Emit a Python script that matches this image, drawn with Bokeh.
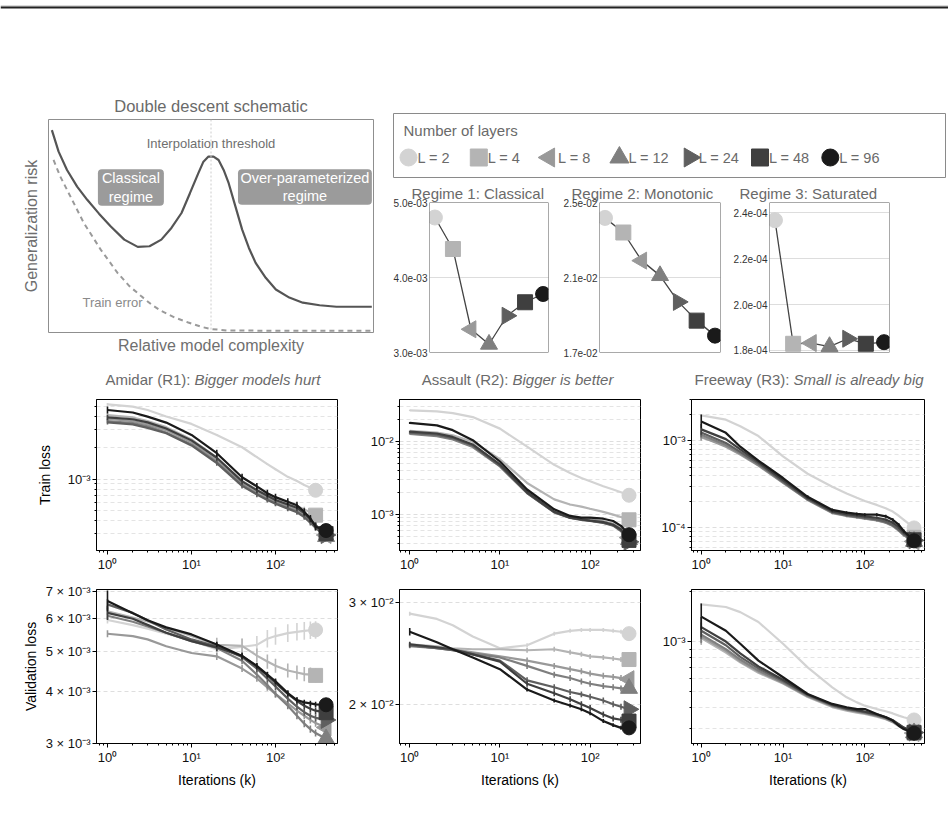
import numpy as np
from bokeh.plotting import figure
from bokeh.models import Range1d, FixedTicker, CustomJSTickFormatter, Span, BoxAnnotation
from bokeh.layouts import column, row
from bokeh.core.properties import value
from bokeh.embed import file_html
from bokeh.resources import INLINE

FONT = "Liberation Sans"
nan = float("nan")

# ---------------- data ----------------
layers = ["L = 2", "L = 4", "L = 8", "L = 12", "L = 24", "L = 48", "L = 96"]
colors = ["#d3d3d3", "#b4b4b4", "#999999", "#7f7f7f", "#5f5f5f", "#3f3f3f", "#1a1a1a"]
markers = ["circle", "square", "triangle", "triangle", "triangle", "square", "circle"]
angles = [0, 0, np.pi / 2, 0, -np.pi / 2, 0, 0]

# schematic
risk_x = [0.0104, 0.0311, 0.0570, 0.0881, 0.1192, 0.1554, 0.1917, 0.2332, 0.2746, 0.3109, 0.3472,
          0.3782, 0.4093, 0.4352, 0.4611, 0.4767, 0.4922, 0.5078, 0.5233, 0.5389, 0.5544, 0.5751,
          0.5959, 0.6166, 0.6373, 0.6684, 0.6995, 0.7409, 0.7824, 0.8342, 0.8860, 0.9948]
risk_y = [0.950, 0.849, 0.763, 0.685, 0.623, 0.558, 0.498, 0.436, 0.402, 0.405, 0.436,
          0.491, 0.561, 0.654, 0.748, 0.802, 0.826, 0.826, 0.810, 0.763, 0.701, 0.592,
          0.483, 0.397, 0.327, 0.257, 0.202, 0.164, 0.140, 0.128, 0.121, 0.121]
train_x = [0.0155, 0.0363, 0.0570, 0.0829, 0.1088, 0.1347, 0.1606, 0.1865, 0.2124, 0.2487,
           0.2850, 0.3161, 0.3472, 0.3886, 0.4301, 0.4715, 0.5026, 0.5544, 1.0]
train_y = [0.810, 0.732, 0.670, 0.592, 0.514, 0.452, 0.389, 0.335, 0.280, 0.218,
           0.171, 0.132, 0.101, 0.070, 0.047, 0.026, 0.016, 0.009, 0.008]
threshold_x = 0.5
regime_boxes = {"left": [0.152, 0.583], "right": [0.355, 0.995],
                "bottom": [0.595, 0.600], "top": [0.766, 0.766]}
regime_box_text = ["Classical\nregime", "Over-parameterized\nregime"]

# regime summaries (final validation loss per depth)
regime1 = [4.80e-3, 4.38e-3, 3.31e-3, 3.11e-3, 3.49e-3, 3.67e-3, 3.78e-3]
regime2 = [2.418e-2, 2.34e-2, 2.19e-2, 2.11e-2, 1.97e-2, 1.87e-2, 1.79e-2]
regime3 = [2.368e-4, 1.829e-4, 1.832e-4, 1.817e-4, 1.851e-4, 1.829e-4, 1.836e-4]

iters_long = [1, 2, 3, 5, 10, 20, 40, 60, 80, 100, 140, 180, 220, 260, 300, 400]
iters_assault = [1, 2, 3, 5, 10, 20, 40, 60, 80, 100, 140, 180, 220, 270]

amidar_train = [
    [5.2e-3, 4.96e-3, 4.6e-3, 3.98e-3, 3.38e-3, 2.65e-3, 2.02e-3, 1.62e-3, 1.39e-3, 1.24e-3, 1.05e-3, 9.56e-4, 8.75e-4, 8.26e-4, 7.8e-4, nan],
    [4.1e-3, 3.9e-3, 3.6e-3, 3.15e-3, 2.4e-3, 1.6e-3, 9.6e-4, 7.9e-4, 7.0e-4, 6.5e-4, 5.9e-4, 5.5e-4, 5.1e-4, 4.8e-4, 4.5e-4, nan],
    [3.8e-3, 3.6e-3, 3.35e-3, 2.95e-3, 2.25e-3, 1.5e-3, 9.0e-4, 7.4e-4, 6.6e-4, 6.1e-4, 5.5e-4, 5.1e-4, 4.6e-4, 4.1e-4, 3.6e-4, 2.9e-4],
    [3.6e-3, 3.45e-3, 3.2e-3, 2.8e-3, 2.15e-3, 1.45e-3, 8.8e-4, 7.2e-4, 6.4e-4, 5.9e-4, 5.3e-4, 4.9e-4, 4.4e-4, 3.9e-4, 3.4e-4, 2.8e-4],
    [3.5e-3, 3.35e-3, 3.1e-3, 2.75e-3, 2.1e-3, 1.42e-3, 8.6e-4, 7.1e-4, 6.3e-4, 5.8e-4, 5.2e-4, 4.8e-4, 4.3e-4, 3.8e-4, 3.4e-4, 2.9e-4],
    [3.9e-3, 3.75e-3, 3.5e-3, 3.05e-3, 2.35e-3, 1.6e-3, 9.5e-4, 7.8e-4, 6.9e-4, 6.3e-4, 5.7e-4, 5.3e-4, 4.7e-4, 4.1e-4, 3.6e-4, 3.0e-4],
    [4.6e-3, 4.35e-3, 3.97e-3, 3.48e-3, 2.65e-3, 1.77e-3, 1.04e-3, 8.5e-4, 7.3e-4, 6.7e-4, 6.05e-4, 5.6e-4, 4.85e-4, 4.19e-4, 3.48e-4, 3.2e-4],
]
assault_train = [
    [2.62e-2, 2.54e-2, 2.41e-2, 2.13e-2, 1.48e-2, 8.4e-3, 4.74e-3, 3.66e-3, 3.13e-3, 2.82e-3, 2.41e-3, 2.18e-3, 2.0e-3, 1.82e-3],
    [1.38e-2, 1.31e-2, 1.2e-2, 9.8e-3, 5.65e-3, 2.68e-3, 1.6e-3, 1.36e-3, 1.27e-3, 1.19e-3, 1.08e-3, 9.9e-4, 9.2e-4, 8.4e-4],
    [1.28e-2, 1.2e-2, 1.08e-2, 8.6e-3, 4.7e-3, 2.0e-3, 1.1e-3, 9.3e-4, 8.8e-4, 8.5e-4, 8.0e-4, 7.4e-4, 6.4e-4, 4.8e-4],
    [1.25e-2, 1.17e-2, 1.05e-2, 8.3e-3, 4.5e-3, 1.95e-3, 1.07e-3, 9.0e-4, 8.5e-4, 8.2e-4, 7.7e-4, 7.1e-4, 6.1e-4, 4.5e-4],
    [1.3e-2, 1.22e-2, 1.1e-2, 8.7e-3, 4.6e-3, 1.95e-3, 1.06e-3, 8.9e-4, 8.4e-4, 8.1e-4, 7.6e-4, 7.0e-4, 5.9e-4, 4.2e-4],
    [1.35e-2, 1.27e-2, 1.14e-2, 9.0e-3, 4.8e-3, 2.0e-3, 1.08e-3, 9.0e-4, 8.5e-4, 8.2e-4, 7.8e-4, 7.2e-4, 6.2e-4, 4.4e-4],
    [1.77e-2, 1.64e-2, 1.41e-2, 1.03e-2, 5.26e-3, 2.18e-3, 1.17e-3, 9.5e-4, 9.0e-4, 9.0e-4, 8.7e-4, 8.1e-4, 6.95e-4, 5.26e-4],
]
freeway_train = [
    [1.97e-3, 1.76e-3, 1.48e-3, 1.14e-3, 6.65e-4, 4.2e-4, 2.97e-4, 2.49e-4, 2.22e-4, 2.04e-4, 1.84e-4, 1.68e-4, 1.54e-4, 1.38e-4, 1.24e-4, 1.0e-4],
    [1.1e-3, 9.0e-4, 7.4e-4, 5.5e-4, 3.5e-4, 2.2e-4, 1.55e-4, 1.42e-4, 1.37e-4, 1.33e-4, 1.27e-4, 1.2e-4, 1.1e-4, 9.8e-5, 8.7e-5, 7.8e-5],
    [1.12e-3, 8.6e-4, 7.0e-4, 5.2e-4, 3.3e-4, 2.1e-4, 1.48e-4, 1.37e-4, 1.32e-4, 1.28e-4, 1.22e-4, 1.15e-4, 1.05e-4, 9.3e-5, 8.2e-5, 7.0e-5],
    [1.18e-3, 9.0e-4, 7.2e-4, 5.3e-4, 3.35e-4, 2.12e-4, 1.5e-4, 1.38e-4, 1.33e-4, 1.29e-4, 1.23e-4, 1.16e-4, 1.06e-4, 9.4e-5, 8.3e-5, 7.0e-5],
    [1.25e-3, 9.5e-4, 7.5e-4, 5.5e-4, 3.4e-4, 2.15e-4, 1.52e-4, 1.4e-4, 1.35e-4, 1.31e-4, 1.25e-4, 1.18e-4, 1.08e-4, 9.6e-5, 8.5e-5, 7.2e-5],
    [1.36e-3, 1.05e-3, 8.0e-4, 5.7e-4, 3.55e-4, 2.2e-4, 1.55e-4, 1.44e-4, 1.39e-4, 1.36e-4, 1.31e-4, 1.25e-4, 1.15e-4, 1.02e-4, 8.8e-5, 7.3e-5],
    [1.68e-3, 1.24e-3, 8.6e-4, 5.94e-4, 3.75e-4, 2.28e-4, 1.61e-4, 1.5e-4, 1.45e-4, 1.42e-4, 1.42e-4, 1.36e-4, 1.24e-4, 1.09e-4, 9.2e-5, 7.1e-5],
]
amidar_val = [
    [5.96e-3, 5.79e-3, 5.68e-3, 5.52e-3, 5.32e-3, 5.06e-3, 5.13e-3, 5.19e-3, 5.37e-3, 5.45e-3, 5.54e-3, 5.58e-3, 5.61e-3, 5.63e-3, 5.64e-3, nan],
    [6.25e-3, 6.04e-3, 5.91e-3, 5.71e-3, 5.45e-3, 5.19e-3, 5.16e-3, 4.89e-3, 4.73e-3, 4.62e-3, 4.50e-3, 4.45e-3, 4.41e-3, 4.40e-3, 4.38e-3, nan],
    [5.52e-3, 5.45e-3, 5.35e-3, 5.15e-3, 4.96e-3, 4.87e-3, 4.55e-3, 4.31e-3, 4.10e-3, 3.95e-3, 3.75e-3, 3.6e-3, 3.5e-3, 3.42e-3, 3.36e-3, 3.28e-3],
    [6.1e-3, 5.9e-3, 5.75e-3, 5.55e-3, 5.3e-3, 5.1e-3, 4.75e-3, 4.4e-3, 4.15e-3, 3.95e-3, 3.7e-3, 3.5e-3, 3.35e-3, 3.25e-3, 3.18e-3, 3.08e-3],
    [6.5e-3, 6.2e-3, 5.95e-3, 5.65e-3, 5.35e-3, 5.15e-3, 4.85e-3, 4.55e-3, 4.3e-3, 4.12e-3, 3.85e-3, 3.68e-3, 3.57e-3, 3.5e-3, 3.46e-3, 3.42e-3],
    [6.2e-3, 6.0e-3, 5.8e-3, 5.55e-3, 5.3e-3, 5.12e-3, 4.88e-3, 4.6e-3, 4.38e-3, 4.2e-3, 3.95e-3, 3.8e-3, 3.7e-3, 3.64e-3, 3.6e-3, 3.56e-3],
    [6.62e-3, 6.19e-3, 5.95e-3, 5.72e-3, 5.5e-3, 5.2e-3, 4.88e-3, 4.62e-3, 4.4e-3, 4.24e-3, 3.97e-3, 3.82e-3, 3.77e-3, 3.75e-3, 3.73e-3, 3.72e-3],
]
assault_val = [
    [2.87e-2, 2.81e-2, 2.74e-2, 2.62e-2, 2.50e-2, 2.53e-2, 2.65e-2, 2.68e-2, 2.69e-2, 2.69e-2, 2.69e-2, 2.68e-2, 2.67e-2, 2.65e-2],
    [2.54e-2, 2.52e-2, 2.50e-2, 2.49e-2, 2.49e-2, 2.48e-2, 2.49e-2, 2.46e-2, 2.44e-2, 2.42e-2, 2.41e-2, 2.40e-2, 2.39e-2, 2.39e-2],
    [2.53e-2, 2.50e-2, 2.49e-2, 2.46e-2, 2.42e-2, 2.38e-2, 2.33e-2, 2.30e-2, 2.28e-2, 2.26e-2, 2.24e-2, 2.23e-2, 2.22e-2, 2.21e-2],
    [2.52e-2, 2.50e-2, 2.48e-2, 2.45e-2, 2.41e-2, 2.33e-2, 2.25e-2, 2.22e-2, 2.19e-2, 2.17e-2, 2.15e-2, 2.14e-2, 2.13e-2, 2.13e-2],
    [2.53e-2, 2.50e-2, 2.48e-2, 2.44e-2, 2.38e-2, 2.20e-2, 2.14e-2, 2.10e-2, 2.08e-2, 2.06e-2, 2.03e-2, 2.00e-2, 1.98e-2, 1.96e-2],
    [2.54e-2, 2.51e-2, 2.49e-2, 2.44e-2, 2.37e-2, 2.17e-2, 2.09e-2, 2.04e-2, 2.00e-2, 1.97e-2, 1.92e-2, 1.89e-2, 1.88e-2, 1.87e-2],
    [2.67e-2, 2.56e-2, 2.49e-2, 2.41e-2, 2.30e-2, 2.12e-2, 2.03e-2, 1.99e-2, 1.96e-2, 1.93e-2, 1.87e-2, 1.84e-2, 1.82e-2, 1.82e-2],
]
freeway_val = [
    [1.67e-3, 1.61e-3, 1.50e-3, 1.31e-3, 9.7e-4, 7.0e-4, 5.32e-4, 4.63e-4, 4.32e-4, 4.13e-4, 3.94e-4, 3.82e-4, 3.71e-4, 3.6e-4, 3.52e-4, 3.39e-4],
    [1.05e-3, 8.6e-4, 7.5e-4, 6.5e-4, 5.6e-4, 4.65e-4, 4.05e-4, 3.85e-4, 3.75e-4, 3.68e-4, 3.55e-4, 3.42e-4, 3.28e-4, 3.12e-4, 2.98e-4, 2.82e-4],
    [1.07e-3, 8.8e-4, 7.6e-4, 6.6e-4, 5.65e-4, 4.7e-4, 4.1e-4, 3.9e-4, 3.8e-4, 3.72e-4, 3.58e-4, 3.45e-4, 3.3e-4, 3.14e-4, 3.0e-4, 2.83e-4],
    [1.10e-3, 9.0e-4, 7.8e-4, 6.7e-4, 5.7e-4, 4.72e-4, 4.12e-4, 3.92e-4, 3.82e-4, 3.74e-4, 3.6e-4, 3.47e-4, 3.32e-4, 3.16e-4, 3.02e-4, 2.84e-4],
    [1.16e-3, 9.5e-4, 8.1e-4, 6.9e-4, 5.8e-4, 4.78e-4, 4.15e-4, 3.95e-4, 3.85e-4, 3.77e-4, 3.63e-4, 3.5e-4, 3.35e-4, 3.18e-4, 3.04e-4, 2.85e-4],
    [1.22e-3, 1.0e-3, 8.5e-4, 7.1e-4, 5.9e-4, 4.82e-4, 4.18e-4, 3.98e-4, 3.88e-4, 3.8e-4, 3.66e-4, 3.53e-4, 3.38e-4, 3.2e-4, 3.05e-4, 2.86e-4],
    [1.41e-3, 1.16e-3, 9.7e-4, 7.69e-4, 6.11e-4, 4.85e-4, 4.23e-4, 4.04e-4, 3.94e-4, 3.94e-4, 3.68e-4, 3.52e-4, 3.36e-4, 3.13e-4, 2.99e-4, 2.82e-4],
]

# relative error-bar half sizes: at the first point, and at later checkpoints
amidar_train_err0 = [0.03, 0.05, 0.05, 0.05, 0.05, 0.06, 0.08]
amidar_train_err = [0.02, 0.06, 0.06, 0.06, 0.06, 0.07, 0.08]
assault_train_err0 = [0.02, 0.02, 0.02, 0.02, 0.02, 0.02, 0.03]
assault_train_err = [0.01, 0.02, 0.02, 0.02, 0.02, 0.02, 0.02]
freeway_train_err0 = [0.03, 0.10, 0.10, 0.10, 0.12, 0.15, 0.20]
freeway_train_err = [0.01, 0.03, 0.03, 0.03, 0.03, 0.03, 0.04]
amidar_val_err0 = [0.02, 0.02, 0.02, 0.02, 0.03, 0.04, 0.06]
amidar_val_err = [0.05, 0.04, 0.02, 0.02, 0.02, 0.02, 0.015]
assault_val_err0 = [0.008, 0.008, 0.008, 0.008, 0.01, 0.01, 0.015]
assault_val_err = [0.008, 0.01, 0.012, 0.012, 0.012, 0.012, 0.008]
freeway_val_err0 = [0.02, 0.10, 0.10, 0.12, 0.12, 0.15, 0.20]
freeway_val_err = [0.004, 0.004, 0.004, 0.004, 0.004, 0.004, 0.004]

# tick values
dec_minor = [m * 10.0 ** e for e in range(-6, 0) for m in range(2, 10)]
x_major = [1, 10, 100]
x_minor = [m * 10.0 ** e for e in range(-1, 3) for m in range(2, 10)]
amidar_val_ticks = [3e-3, 4e-3, 5e-3, 6e-3, 7e-3]
assault_val_ticks = [2e-2, 3e-2]

row_titles = [("Amidar (R1):", "Bigger models hurt"),
              ("Assault (R2):", "Bigger is better"),
              ("Freeway (R3):", "Small is already big")]

# ---------------- helpers ----------------
LOGFMT = """
const sup = {"0":"\u2070","1":"\u00b9","2":"\u00b2","3":"\u00b3","4":"\u2074","5":"\u2075","6":"\u2076","7":"\u2077","8":"\u2078","9":"\u2079","-":"\u207b"};
const e = Math.floor(Math.log10(tick) + 1e-9);
const m = Math.round(tick / Math.pow(10, e));
const es = String(e).split("").map(c => sup[c]).join("");
return (m === 1 ? "" : m + " \u00d7 ") + "10" + es;
"""
SCIFMT = """
const s = tick.toExponential(1);
const parts = s.split("e");
const sign = parts[1][0];
let d = parts[1].slice(1);
if (d.length < 2) { d = "0" + d; }
return parts[0] + "e" + sign + d;
"""


def base(w, h, **kw):
    return figure(width=w, height=h, output_backend="svg", toolbar_location=None, **kw)


def blank(w, h, xr, yr, **kw):
    p = base(w, h, x_range=Range1d(*xr), y_range=Range1d(*yr),
             x_axis_location=None, y_axis_location=None, **kw)
    p.grid.visible = False
    return p


def loss_panel(w, h, borders, xr, yr, iters, series, err0, err, yticks, yminor,
               ylabel=None, xlabel=None, ylab_standoff=10):
    l, r, t, b = borders
    p = base(w, h, x_axis_type="log", y_axis_type="log",
             x_range=Range1d(*xr), y_range=Range1d(*yr),
             min_border_left=l, min_border_right=r, min_border_top=t, min_border_bottom=b)
    p.outline_line_color = "black"
    p.outline_line_width = 1
    p.xaxis.ticker = FixedTicker(ticks=x_major, minor_ticks=x_minor)
    yt = FixedTicker(ticks=yticks, minor_ticks=yminor)
    p.yaxis.ticker = yt
    p.ygrid.ticker = yt
    p.xgrid.visible = False
    p.ygrid.grid_line_color = "#dedede"
    p.ygrid.grid_line_dash = "4 3"
    p.ygrid.minor_grid_line_color = "#e4e4e4"
    p.ygrid.minor_grid_line_dash = "4 3"
    fmt = CustomJSTickFormatter(code=LOGFMT)
    for ax in (p.xaxis[0], p.yaxis[0]):
        ax.formatter = fmt
        ax.major_label_text_font = FONT
        ax.major_label_text_font_size = "13px"
        ax.major_label_text_color = "#111111"
        ax.major_tick_out = 4
        ax.major_tick_in = 0
        ax.minor_tick_out = 2
        ax.minor_tick_in = 0
        ax.axis_line_color = "black"
        ax.major_tick_line_color = "black"
        ax.minor_tick_line_color = "black"
        ax.major_label_standoff = 2
        ax.axis_label_text_font = FONT
        ax.axis_label_text_font_size = "14px"
        ax.axis_label_text_font_style = "normal"
        ax.axis_label_text_color = "black"
    if ylabel:
        p.yaxis.axis_label = ylabel
        p.yaxis.axis_label_standoff = ylab_standoff
    if xlabel:
        p.xaxis.axis_label = xlabel
        p.xaxis.axis_label_standoff = 4
    its = np.array(iters, dtype=float)
    for i in range(len(layers)):
        vals = np.array(series[i], dtype=float)
        ok = np.isfinite(vals)
        p.line(its[ok], vals[ok], line_color=colors[i], line_width=2.2)
        first = ok & (its == its[0])
        later = ok & (its >= 20)
        for sel, e in ((first, err0[i]), (later, err[i])):
            p.segment(its[sel], vals[sel] / (1 + e), its[sel], vals[sel] * (1 + e),
                      line_color=colors[i], line_width=1.6)
        last = np.where(ok)[0][-1]
        size = 17 if markers[i] == "triangle" else 14
        p.scatter([its[last]], [vals[last]], marker=markers[i], angle=angles[i], size=size,
                  fill_color=colors[i], line_color=colors[i])
    return p


def regime_panel(w, h, borders, vals, yr, yticks, title, title_offset, title_standoff):
    l, r, t, b = borders
    p = base(w, h, x_range=Range1d(-0.3, 6.3), y_range=Range1d(*yr),
             min_border_left=l, min_border_right=r, min_border_top=t, min_border_bottom=b,
             x_axis_location=None, title=title)
    p.title.align = "left"
    p.title.offset = title_offset
    p.title.standoff = title_standoff
    p.title.text_font = FONT
    p.title.text_font_size = "15px"
    p.title.text_font_style = "normal"
    p.title.text_color = "#6a6a6a"
    p.outline_line_color = None
    p.add_layout(BoxAnnotation(fill_color=None, fill_alpha=0, line_color="#555555",
                               line_alpha=1, line_width=1))
    yt = FixedTicker(ticks=yticks)
    p.yaxis.ticker = yt
    p.ygrid.ticker = yt
    p.yaxis.formatter = CustomJSTickFormatter(code=SCIFMT)
    p.yaxis.major_label_text_font = FONT
    p.yaxis.major_label_text_font_size = "10px"
    p.yaxis.major_label_text_color = "#333333"
    p.yaxis.major_tick_out = 0
    p.yaxis.major_tick_in = 0
    p.yaxis.minor_tick_line_color = None
    p.yaxis.axis_line_color = None
    p.yaxis.major_label_standoff = 2
    p.xgrid.visible = False
    p.ygrid.grid_line_color = "#bbbbbb"
    p.ygrid.grid_line_dash = "1 1"
    xs = list(range(len(layers)))
    p.line(xs, vals, line_color="#444444", line_width=1.3)
    for i in xs:
        size = 17 if markers[i] == "triangle" else 15
        p.scatter([xs[i]], [vals[i]], marker=markers[i], angle=angles[i], size=size,
                  fill_color=colors[i], line_color=colors[i])
    return p


# ---------------- top rule ----------------
top = blank(948, 90, (0, 948), (0, 90), min_border=0)
top.outline_line_color = None
top.add_layout(Span(location=84.5, dimension="width", line_color="#b5b5b5", line_width=1))
top.add_layout(Span(location=83, dimension="width", line_color="#222222", line_width=2))

# ---------------- schematic ----------------
sch = base(390, 275, x_range=Range1d(0, 1), y_range=Range1d(0, 1),
           min_border_left=48, min_border_right=17, min_border_top=28, min_border_bottom=33,
           title="Double descent schematic")
sch.title.align = "center"
sch.title.standoff = 9
sch.title.text_font = FONT
sch.title.text_font_size = "16.5px"
sch.title.text_font_style = "normal"
sch.title.text_color = "#6a6a6a"
sch.outline_line_color = "#8f8f8f"
sch.grid.visible = False
for ax in (sch.xaxis[0], sch.yaxis[0]):
    ax.ticker = FixedTicker(ticks=[])
    ax.major_tick_out = 0
    ax.major_tick_in = 0
    ax.minor_tick_out = 0
    ax.axis_line_color = None
    ax.major_label_standoff = 0
    ax.axis_label_text_font = FONT
    ax.axis_label_text_font_size = "16px"
    ax.axis_label_text_font_style = "normal"
    ax.axis_label_text_color = "#6f6f6f"
sch.xaxis.axis_label = "Relative model complexity"
sch.xaxis.axis_label_standoff = 4
sch.yaxis.axis_label = "Generalization risk"
sch.yaxis.axis_label_standoff = 9
sch.add_layout(Span(location=threshold_x, dimension="height", line_color="#cccccc",
                    line_width=1, line_dash="2 2"))
sch.line(train_x, train_y, line_color="#9a9a9a", line_width=2, line_dash="5 4")
sch.line(risk_x, risk_y, line_color="#555555", line_width=2.2)
sch.quad(left=regime_boxes["left"], right=regime_boxes["right"], bottom=regime_boxes["bottom"],
         top=regime_boxes["top"], fill_color="#9b9b9b", line_color=None, border_radius=4)
box_cx = [(a + b) / 2 for a, b in zip(regime_boxes["left"], regime_boxes["right"])]
box_cy = [(a + b) / 2 for a, b in zip(regime_boxes["bottom"], regime_boxes["top"])]
sch.text(box_cx, box_cy, text=regime_box_text, text_align="center", text_baseline="middle",
         text_color="white", text_font=value(FONT), text_font_size="14.5px", text_line_height=1.15)
sch.text([threshold_x], [0.888], text=["Interpolation threshold"], text_align="center",
         text_baseline="middle", text_color="#6f6f6f", text_font=value(FONT), text_font_size="13px")
sch.text([0.197], [0.14], text=["Train error"], text_align="center", text_baseline="middle",
         text_color="#8a8a8a", text_font=value(FONT), text_font_size="13px")

# ---------------- legend ----------------
pitch = 70.3
leg_x0 = -15 / pitch
leg = blank(558, 88, (leg_x0, leg_x0 + 552 / pitch), (0, 64),
            min_border_left=3, min_border_right=3, min_border_top=23, min_border_bottom=1)
leg.outline_line_color = "#8a8a8a"
leg_x = list(range(len(layers)))
for i in leg_x:
    size = 19 if markers[i] == "triangle" else 17
    leg.scatter([leg_x[i]], [20], marker=markers[i], angle=angles[i], size=size,
                fill_color=colors[i], line_color=colors[i])
leg.text(leg_x, [20] * len(layers), text=layers, x_offset=9, text_baseline="middle",
         text_color="#6a6a6a", text_font=value(FONT), text_font_size="14.5px")
leg.text([leg_x0 + 10 / pitch], [47], text=["Number of layers"], text_baseline="middle",
         text_color="#6a6a6a", text_font=value(FONT), text_font_size="15px")

# ---------------- regimes ----------------
r1 = regime_panel(170, 187, (38, 12, 24, 13), regime1, (3.0e-3, 5.0e-3), [3e-3, 4e-3, 5e-3],
                  "Regime 1: Classical", -18, 2)
r2 = regime_panel(170, 187, (38, 10, 24, 13), regime2, (1.7e-2, 2.5e-2), [1.7e-2, 2.1e-2, 2.5e-2],
                  "Regime 2: Monotonic", -28, 2)
r3 = regime_panel(218, 187, (37, 59, 24, 13), regime3, (1.791e-4, 2.445e-4),
                  [1.8e-4, 2.0e-4, 2.2e-4, 2.4e-4], "Regime 3: Saturated", -30, 2)

# ---------------- title strip ----------------
strip = blank(948, 33, (0, 948), (0, 33), min_border=0)
strip.outline_line_color = None
split_x = [190, 508, 789]
strip.text(split_x, [11, 11, 11], text=[t[0] for t in row_titles], text_align="right",
           text_color="#6a6a6a", text_font=value(FONT), text_font_size="15px")
strip.text([s + 4 for s in split_x], [11, 11, 11], text=[t[1] for t in row_titles],
           text_align="left", text_font_style="italic",
           text_color="#6a6a6a", text_font=value(FONT), text_font_size="15px")

# ---------------- loss panels ----------------
ta = loss_panel(345, 177, (96, 8, 1, 25), (0.74, 547), (2.06e-4, 5.8e-3), iters_long,
                amidar_train, amidar_train_err0, amidar_train_err, [1e-3], dec_minor,
                ylabel="Train loss", ylab_standoff=12)
tb = loss_panel(305, 177, (54, 10, 1, 25), (0.77, 362), (3.2e-4, 3.7e-2), iters_assault,
                assault_train, assault_train_err0, assault_train_err, [1e-3, 1e-2], dec_minor)
tc = loss_panel(298, 177, (41, 24, 1, 25), (0.76, 537), (5.5e-5, 3.0e-3), iters_long,
                freeway_train, freeway_train_err0, freeway_train_err, [1e-4, 1e-3], dec_minor)

va = loss_panel(345, 238, (96, 8, 14, 70), (0.74, 547), (3.0e-3, 7.06e-3), iters_long,
                amidar_val, amidar_val_err0, amidar_val_err, amidar_val_ticks, [],
                ylabel="Validation loss", xlabel="Iterations (k)", ylab_standoff=4)
vb = loss_panel(305, 238, (54, 10, 14, 70), (0.77, 362), (1.71e-2, 3.16e-2), iters_assault,
                assault_val, assault_val_err0, assault_val_err, assault_val_ticks, [],
                xlabel="Iterations (k)")
vc = loss_panel(298, 238, (41, 24, 14, 70), (0.76, 537), (2.45e-4, 2.05e-3), iters_long,
                freeway_val, freeway_val_err0, freeway_val_err, [1e-3], dec_minor,
                xlabel="Iterations (k)")

layout = column(
    top,
    row(sch, column(leg, row(r1, r2, r3))),
    strip,
    row(ta, tb, tc),
    row(va, vb, vc),
)

open("out.html", "w").write(file_html(layout, INLINE))
